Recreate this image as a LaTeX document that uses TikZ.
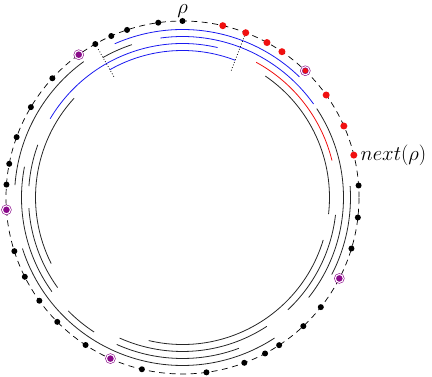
\documentclass[tikz,border=0pt]{standalone}
\usepackage{tikz}
\usetikzlibrary{positioning}
\definecolor{ringBlue}{HTML}{1A1AF0}
\definecolor{ringRed}{HTML}{F01010}
\definecolor{ringMark}{HTML}{8A0A8A}
\tikzset{
  dot/.style={circle, fill=black, inner sep=0pt, minimum size=6pt},
  reddot/.style={dot, fill=ringRed, minimum size=7pt},
  markdot/.style={dot, fill=ringMark, draw=ringMark, line width=0.6pt,
    double=white, double distance=1.1pt, minimum size=8pt},
  guide/.style={dashed, dash pattern=on 6pt off 4.5pt, line width=0.7pt},
  seg/.style={line width=0.8pt, black!85},
  bseg/.style={seg, ringBlue},
  rseg/.style={seg, ringRed},
  tick/.style={dotted, line width=0.8pt},
  lbl/.style={font=\huge, inner sep=0pt}
}
\begin{document}
\begin{tikzpicture}[x=1pt, y=1pt]
  \useasboundingbox (-182.5,-179.5) rectangle (249.5,197.5);
  % the ring
  \draw[guide] (0,0) circle[radius=176.5];
  % layers of intervals: radius/start/end
  \foreach \r/\a/\b in {168/45.9/113.8, 161/35.5/97.9, 154/76.8/149.2, 147/69/119.6}
    \draw[bseg] (\a:\r) arc[start angle=\a, end angle=\b, radius=\r];
  \draw[rseg] (13.9:154) arc[start angle=13.9, end angle=61.4, radius=154];
  \foreach \r/\a/\b in {168/126/175.8, 168/197.7/303.2, 168/332.7/363.9,
                        161/108.3/119.6, 161/169/215.8, 161/224.8/236.7,
                        161/245.9/290.5, 161/321.6/393.5,
                        154/160/175.8, 154/184/215.8, 154/245.9/303.2, 154/313.2/353.5,
                        147/137.5/206.7, 147/256.7/343.2, 147/353.5/415.7}
    \draw[seg] (\a:\r) arc[start angle=\a, end angle=\b, radius=\r];
  \draw[tick] (119.6:139) -- (119.6:172);
  \draw[tick] (69:136) -- (69:175);
  % nodes on the ring
  \foreach \a [count=\i] in {3.9, 90, 97.9, 108.3, 113.8, 119.6, 137.5, 149.2, 160,
      169, 175.8, 197.7, 206.7, 215.8, 224.8, 236.7, 256.7, 277.8, 290.5,
      297.9, 303.2, 313.2, 321.6, 343.2, 353.5}
    \node[dot] (n\i) at (\a:176.5) {};
  \foreach \a [count=\i] in {13.9, 23.9, 35.5, 55.7, 61.4, 69, 76.8}
    \node[reddot] (s\i) at (\a:176.5) {};
  \node[markdot, fill=ringRed] (s0) at (45.9:176.5) {};
  \foreach \a [count=\i] in {126, 184, 245.9, 332.7}
    \node[markdot] (m\i) at (\a:176.5) {};
  \node[lbl, above=0pt of n2] (rho) {$\rho$};
  \node[lbl, right=3pt of s1] (next) {$next(\rho)$};
\end{tikzpicture}
\end{document}
